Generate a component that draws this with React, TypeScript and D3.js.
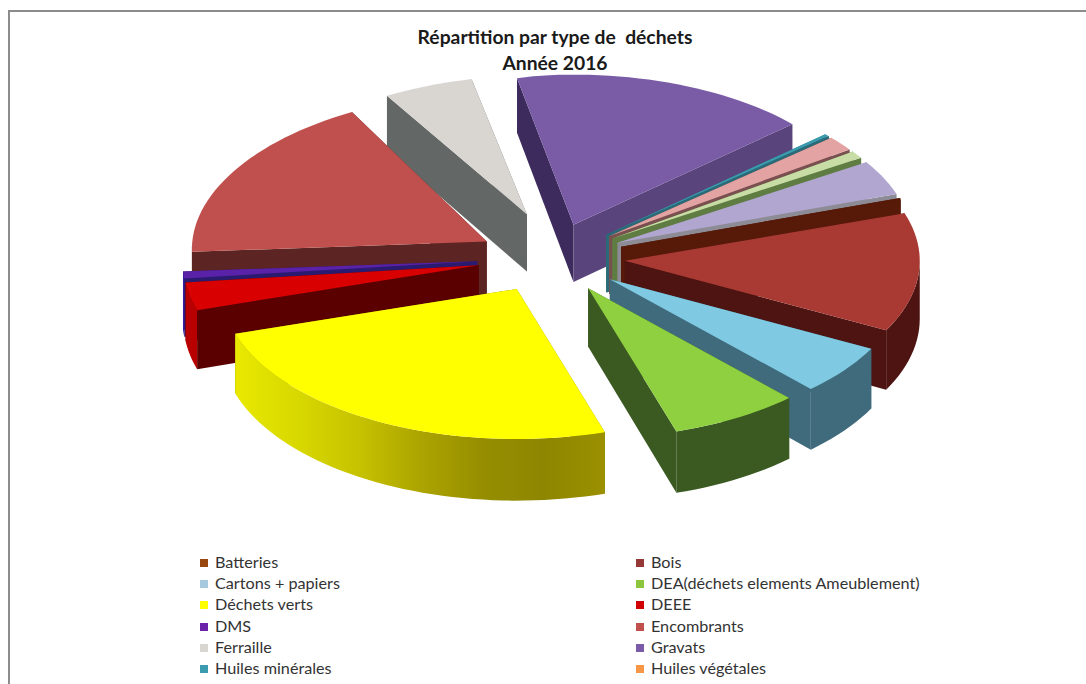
import React from "react";
import * as d3 from "d3";

const titleLines = ["Répartition par type de  déchets", "Année 2016"];
const sliceNames = ["Batteries","Bois","Cartons + papiers","DEA(déchets elements Ameublement)","Déchets verts","DEEE","DMS","Encombrants","Ferraille","Gravats","Huiles minérales","Huiles végétales","Autre A","Autre B","Autre C"];
const sliceValues = [0.15,12.8,5.4,7.1,25.0,3.0,0.75,17.7,4.9,16.8,0.25,0.01,1.6,0.8,3.75];
const topColors = ["#571a08","#a93a33","#7fc9e2","#8fd040","#ffff00","#d80000","#5a22a8","#c0504d","#d9d6d2","#7a5ca6","#3a9cae","#3a9cae","#e3a3a2","#c8dca6","#b1a6cf"];
const startSideColors = ["#571a08","#4d1412","#3f6b7c","#3b5a22","#8a8a00","#5a0000","#2a1a70","#5c2422","#636765","#3c2b5c","#2b6a78","#2b6a78","#7a4f4f","#5f7d42","#8d8c96"];
const endSideColors = ["#571a08","#4d1412","#3f6b7c","#3b5a22","#8a8a00","#5a0000","#2a1a70","#5c2422","#636765","#5a447c","#2b6a78","#2b6a78","#7a4f4f","#5f7d42","#8d8c96"];
const rimColors = ["#571a08","#4d1412","#3f6b7c","#3b5a22","#8a8a00","#b80000","#3a1aa0","#5c2422","#636765","#3c2b5c","#2b6a78","#2b6a78","#7a4f4f","#5f7d42","#8d8c96"];
const legendColors = ["#98480f","#953735","#a6c9e0","#8cc63f","#ffff00","#d00000","#6a22a8","#c0504d","#d9d6d2","#7a5ca6","#3a9cae","#f79646"];
const legendNames = sliceNames.slice(0, 12);
const yellowRimStops = ["#e8e800","#d8d800","#c6c200","#aca400","#968e00","#8e8600","#9a9000"];

const deg = Math.PI / 180;
const sx = d3.scaleLinear().domain([-1, 1]).range([551 - 295, 551 + 295]);
const sy = d3.scaleLinear().domain([-1, 1]).range([258 + 150, 258 - 150]);
const explodeX = 74 / 295;
const explodeY = 35 / 150;
const thick = (y: number) => 58 + 3 * ((y - 258) / 150);
const line = d3.line<[number, number]>();
// the far-left quarter of the picture leans inward, as in the original 3D view
const project = (X: number, Y: number): [number, number] => [
  sx(X) + 15 * Math.max(Y, 0) * Math.min(1, Math.max(0, -X * 3)),
  sy(Y),
];

const pie = d3.pie<number>().sort(null).startAngle(71 * deg).endAngle(431 * deg);
const arcs = pie(sliceValues);
const ferrailleIndex = sliceNames.indexOf("Ferraille");

function geom(i: number) {
  const a = arcs[i];
  const m = (a.startAngle + a.endAngle) / 2;
  const ox = explodeX * Math.sin(m);
  const oy = explodeY * Math.cos(m);
  const base = project(ox, oy);
  const isFerraille = i === ferrailleIndex;
  const apex: [number, number] = isFerraille ? [base[0] + 2, base[1] - 11] : base;
  const pt = (t: number): [number, number] => {
    const p = project(ox + Math.sin(t), oy + Math.cos(t));
    return isFerraille ? [p[0] - 5, p[1]] : p;
  };
  const n = Math.max(2, Math.ceil((a.endAngle - a.startAngle) / deg / 2));
  const rim = d3.range(n + 1).map((k) => pt(a.startAngle + ((a.endAngle - a.startAngle) * k) / n));
  const lo = Math.max(a.startAngle, 90 * deg);
  const hi = Math.min(a.endAngle, 270 * deg);
  let front: [number, number][] = [];
  if (hi > lo) {
    const f = Math.max(2, Math.ceil((hi - lo) / deg / 2));
    front = d3.range(f + 1).map((k) => pt(lo + ((hi - lo) * k) / f));
  }
  return { apex, rim, front };
}
const down = (p: [number, number]): [number, number] => [p[0], p[1] + thick(p[1])];
const facePath = (pts: [number, number][]) => line([...pts, ...pts.slice().reverse().map(down)]) + "Z";

const order = d3.range(sliceValues.length).sort((a, b) => geom(a).apex[1] - geom(b).apex[1]);
const rows = [563, 584, 605, 627, 648, 669];

export default function App() {
  return (
    <svg width={1086} height={684} style={{ position: "fixed", left: 0, top: 0, background: "#fff" }} fontFamily="Lato">
      <defs>
        <linearGradient id="yellowRim" gradientUnits="userSpaceOnUse" x1={237} x2={605} y1={0} y2={0}>
          {yellowRimStops.map((c, i) => (
            <stop key={c} offset={i / (yellowRimStops.length - 1)} stopColor={c} />
          ))}
        </linearGradient>
      </defs>
      <path d="M9 684V11H1086" fill="none" stroke="#8c8c8c" strokeWidth={2} />
      {titleLines.map((t, i) => (
        <text key={t} x={555} y={44 + i * 26} textAnchor="middle" fontWeight={700} fontSize={19.3} fill="#1a1a1a" style={{ whiteSpace: "pre" }}>
          {t}
        </text>
      ))}
      {order.map((i) => {
        const g = geom(i);
        const rimFill = sliceNames[i] === "Déchets verts" ? "url(#yellowRim)" : rimColors[i];
        return (
          <g key={i}>
            <path d={facePath([g.apex, g.rim[0]])} fill={startSideColors[i]} />
            <path d={facePath([g.apex, g.rim[g.rim.length - 1]])} fill={endSideColors[i]} />
            {g.front.length > 0 && <path d={facePath(g.front)} fill={rimFill} />}
            <path d={line([g.apex, ...g.rim]) + "Z"} fill={topColors[i]} />
          </g>
        );
      })}
      {legendNames.map((n, i) => {
        const col = i % 2;
        const y = rows[Math.floor(i / 2)];
        const x = col === 0 ? 200 : 636;
        return (
          <g key={n}>
            <rect x={x} y={y - 4} width={8} height={8} fill={legendColors[i]} />
            <text x={x + 15} y={y + 5} fontSize={16.2} fill="#333">{n}</text>
          </g>
        );
      })}
    </svg>
  );
}
